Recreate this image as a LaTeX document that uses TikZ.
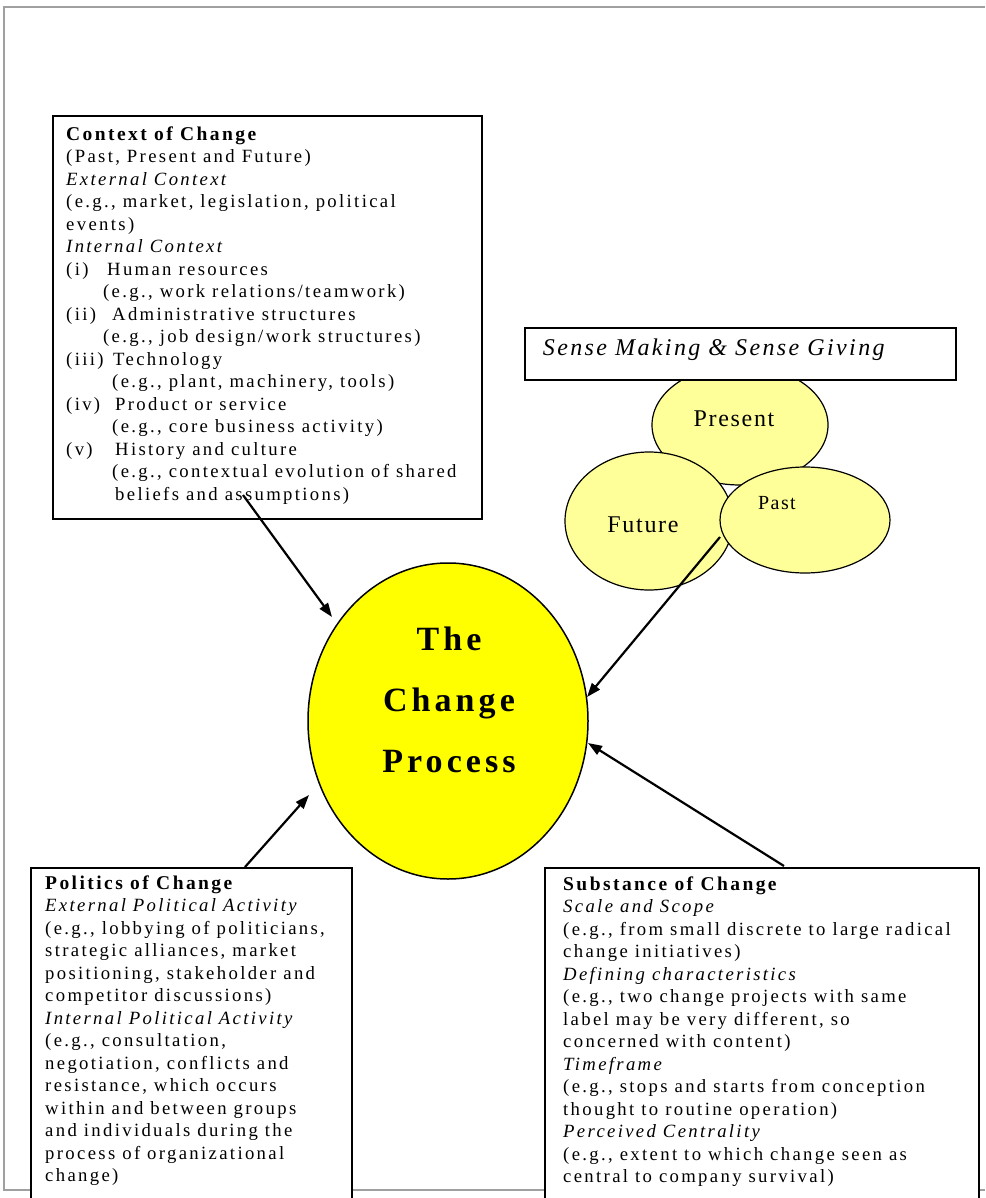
\documentclass[tikz,border=0pt]{standalone}
\usepackage{fontspec}
\setmainfont{Liberation Serif}
\newfontfamily\boxfont{Liberation Serif}[LetterSpace=12.5]
\newfontfamily\bigfont{Liberation Serif}[LetterSpace=12]
\newfontfamily\blobfont{Liberation Serif}[LetterSpace=7]
\newfontfamily\sensefont{Liberation Serif}[LetterSpace=10]
\usetikzlibrary{shapes.geometric,arrows.meta}
\definecolor{framegray}{HTML}{A0A0A0}
\definecolor{blobyellow}{HTML}{FFFF99}
\definecolor{mainyellow}{HTML}{FFFF00}
\newcommand\ind[1]{\hspace*{#1pt}}
\newcommand\lab[2]{\makebox[#1pt][l]{#2}}
\newcommand\boxtitle[1]{{\fontsize{19.5}{22.5}\selectfont\bfseries #1}}
\begin{document}
\begin{tikzpicture}[x=1pt,y=-1pt,
  boxstyle/.style={draw=black, line width=1.8pt, fill=white, rectangle, inner sep=0pt, anchor=north west},
  boxtext/.style={anchor=north west, inner sep=0pt, align=left, font=\boxfont\fontsize{18.7}{22.5}\selectfont},
  blob/.style={draw=black, line width=1.2pt, fill=blobyellow, ellipse, inner sep=0pt},
  blobtext/.style={anchor=base, inner sep=0pt, font=\blobfont\fontsize{24}{28}\selectfont},
  arr/.style={line width=2.2pt, -{Triangle[length=14pt,width=10pt]}}
]
\useasboundingbox (0,0) rectangle (985,1198);
% outer frame
\draw[framegray, line width=2pt] (985,7) -- (4,7) -- (4,1190) -- (985,1190);

% sense making blobs
\node[blob, minimum width=176pt, minimum height=120pt] (present) at (740,425) {};
\node[blob, minimum width=168pt, minimum height=138pt] (future) at (649,521) {};
\node[blob, minimum width=170pt, minimum height=106pt] (past) at (805,520) {};
\node[blobtext] (presentlbl) at (734,426) {Present};
\node[blobtext] (futurelbl) at (643,532) {Future};
\node[blobtext, font=\blobfont\fontsize{20}{24}\selectfont] (pastlbl) at (777,509) {Past};

% sense box
\node[boxstyle, minimum height=52pt, text width=395pt, inner xsep=18pt, text height=15pt, text depth=11pt, align=left,
      font=\sensefont\itshape\fontsize{24}{28}\selectfont] (sense) at (524,327) {Sense Making \& Sense Giving};

% central ellipse
\node[ellipse, draw=black, line width=1.5pt, fill=mainyellow, minimum width=280pt, minimum height=316pt, inner sep=0pt] (main) at (448,721) {};
\node[anchor=north, inner sep=0pt, align=center, font=\bigfont\bfseries\fontsize{34}{61}\selectfont] (maintext) at (449,607.3)
  {\strut The\\Change\\Process};

% context box
\node[boxstyle, minimum width=429pt, minimum height=403pt] (context) at (52,115) {};
\node[boxtext] (contexttext) at (66,124.2) {\strut\boxtitle{Context of Change}\\
(Past, Present and Future)\\
\textit{External Context}\\
(e.g., market, legislation, political\\
events)\\
\textit{Internal Context}\\
\lab{41}{(i)}Human resources\\
\ind{37}(e.g., work relations/teamwork)\\
\lab{46}{(ii)}Administrative structures\\
\ind{37}(e.g., job design/work structures)\\
\lab{47}{(iii)}Technology\\
\ind{46}(e.g., plant, machinery, tools)\\
\lab{49}{(iv)}Product or service\\
\ind{46}(e.g., core business activity)\\
\lab{49}{(v)}History and culture\\
\ind{46}(e.g., contextual evolution of shared\\
\ind{49}beliefs and assumptions)};

% politics box
\node[boxstyle, minimum width=321pt, minimum height=345pt] (politics) at (30,867) {};
\node[boxtext] (politicstext) at (45,873.2) {\strut\boxtitle{Politics of Change}\\
\textit{External Political Activity}\\
(e.g., lobbying of politicians,\\
strategic alliances, market\\
positioning, stakeholder and\\
competitor discussions)\\
\textit{Internal Political Activity}\\
(e.g., consultation,\\
negotiation, conflicts and\\
resistance, which occurs\\
within and between groups\\
and individuals during the\\
process of organizational\\
change)};

% substance box
\node[boxstyle, minimum width=434pt, minimum height=345pt] (substance) at (544,867) {};
\node[boxtext] (substancetext) at (563,874.2) {\strut\boxtitle{Substance of Change}\\
\textit{Scale and Scope}\\
(e.g., from small discrete to large radical\\
change initiatives)\\
\textit{Defining characteristics}\\
(e.g., two change projects with same\\
label may be very different, so\\
concerned with content)\\
\textit{Timeframe}\\
(e.g., stops and starts from conception\\
thought to routine operation)\\
\textit{Perceived Centrality}\\
(e.g., extent to which change seen as\\
central to company survival)};

% connector end points
\coordinate (c1s) at (243,495);
\coordinate (c1e) at (332,617);
\coordinate (c2s) at (720,537);
\coordinate (c2e) at (587,697);
\coordinate (c3s) at (784,866);
\coordinate (c3e) at (588,743);
\coordinate (c4s) at (245,867);
\coordinate (c4e) at (309,795);

\draw[arr] (c1s) -- (c1e);
\draw[arr] (c2s) -- (c2e);
\draw[arr] (c3s) -- (c3e);
\draw[arr] (c4s) -- (c4e);
\end{tikzpicture}
\end{document}
